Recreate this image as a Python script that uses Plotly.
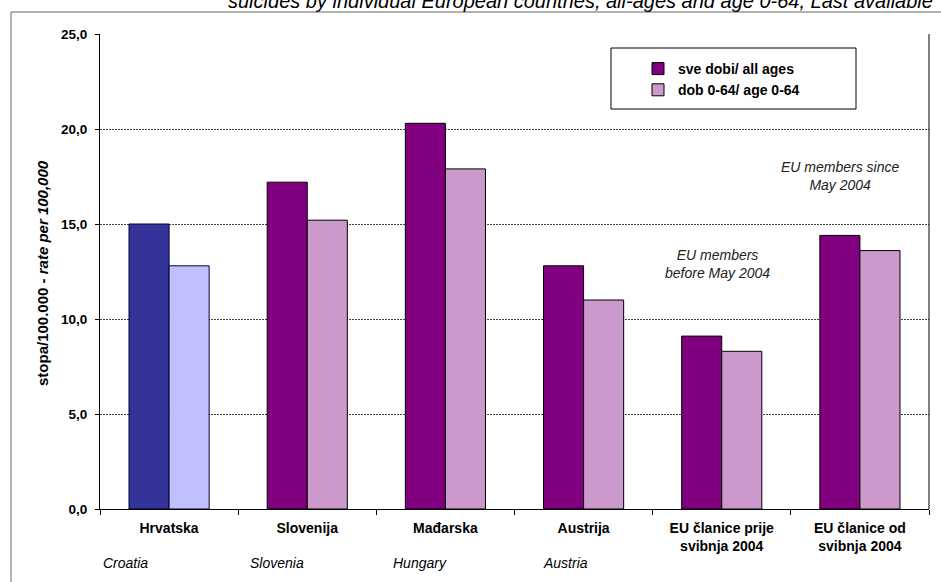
import plotly.graph_objects as go

categories = ["Hrvatska", "Slovenija", "Mađarska", "Austrija",
              "EU članice prije<br>svibnja 2004", "EU članice od<br>svibnja 2004"]
english_labels = ["Croatia", "Slovenia", "Hungary", "Austria"]
all_ages = [15.0, 17.2, 20.3, 12.8, 9.1, 14.4]
age_0_64 = [12.8, 15.2, 17.9, 11.0, 8.3, 13.6]
y_ticks = [0, 5, 10, 15, 20, 25]
y_tick_text = ["0,0", "5,0", "10,0", "15,0", "20,0", "25,0"]

FONT = "Arial, Liberation Sans, sans-serif"
W, H = 941, 582
ML, MR, MT, MB = 100, 12, 34, 73
PW = W - ML - MR
PH = H - MT - MB

def px_x(p):
    return (p - ML) / PW

def px_y(p):
    return 1 - (p - MT) / PH

fig = go.Figure()

# Croatia (highlighted colours)
fig.add_trace(go.Bar(x=categories[:1], y=all_ages[:1], offsetgroup="a",
                     marker=dict(color="#333399", line=dict(color="#000033", width=1)),
                     showlegend=False, hoverinfo="y"))
fig.add_trace(go.Bar(x=categories[:1], y=age_0_64[:1], offsetgroup="b",
                     marker=dict(color="#C0C0FF", line=dict(color="#000033", width=1)),
                     showlegend=False, hoverinfo="y"))
# Others
fig.add_trace(go.Bar(x=categories[1:], y=all_ages[1:], offsetgroup="a",
                     name="<b>sve dobi/ all ages</b>",
                     marker=dict(color="#800080", line=dict(color="#000000", width=1))))
fig.add_trace(go.Bar(x=categories[1:], y=age_0_64[1:], offsetgroup="b",
                     name="<b>dob 0-64/ age 0-64</b>",
                     marker=dict(color="#CC99CC", line=dict(color="#000000", width=1))))

shapes = [
    # outer chart border (cut on right and bottom)
    dict(type="rect", xref="paper", yref="paper",
         x0=px_x(11), x1=px_x(W + 20), y0=px_y(H + 20), y1=px_y(12),
         line=dict(color="#666666", width=1), fillcolor="rgba(0,0,0,0)", layer="below"),
    # right border of plot area
    dict(type="line", xref="paper", yref="paper", x0=1, x1=1, y0=0, y1=1,
         line=dict(color="#000000", width=1)),
    # legend box
    dict(type="rect", xref="paper", yref="paper",
         x0=px_x(611), x1=px_x(856), y0=px_y(109), y1=px_y(48),
         line=dict(color="#000000", width=1), fillcolor="#FFFFFF", layer="above"),
]

annotations = [
    dict(text="<i>suicides by individual European countries, all-ages and age 0-64, Last available</i>",
         xref="paper", yref="paper", x=px_x(580), y=px_y(1), xanchor="center", yanchor="middle",
         showarrow=False, font=dict(family=FONT, size=20, color="#000000")),
    dict(text="<b>stopa/100.000 - <i>rate per 100,000</i></b>", textangle=-90,
         xref="paper", yref="paper", x=px_x(42), y=px_y(273), xanchor="center", yanchor="middle",
         showarrow=False, font=dict(family=FONT, size=15, color="#000000")),
    dict(text="<i>EU members since<br>May 2004</i>", xref="paper", yref="paper",
         x=px_x(840), y=px_y(176), showarrow=False, align="center",
         xanchor="center", yanchor="middle",
         font=dict(family=FONT, size=14, color="#222222")),
    dict(text="<i>EU members<br>before May 2004</i>", xref="paper", yref="paper",
         x=px_x(717), y=px_y(264), showarrow=False, align="center",
         xanchor="center", yanchor="middle",
         font=dict(family=FONT, size=14, color="#222222")),
]
eng_x = [125, 277, 420, 565]
for lab, xp in zip(english_labels, eng_x):
    annotations.append(dict(text="<i>" + lab + "</i>", xref="paper", yref="paper",
                            x=px_x(xp), y=px_y(563), xanchor="center", yanchor="middle",
                            showarrow=False, font=dict(family=FONT, size=14, color="#000000")))

fig.update_layout(
    width=W, height=H,
    margin=dict(l=ML, r=MR, t=MT, b=MB, autoexpand=False),
    paper_bgcolor="#FFFFFF", plot_bgcolor="#FFFFFF",
    barmode="group", bargap=0.42, bargroupgap=0,
    font=dict(family=FONT, size=14, color="#000000"),
    showlegend=True,
    legend=dict(x=px_x(638), y=px_y(53), xanchor="left", yanchor="top",
                bgcolor="rgba(0,0,0,0)", borderwidth=0,
                font=dict(family=FONT, size=14, color="#000000"),
                itemwidth=30, tracegroupgap=0),
    shapes=shapes,
    annotations=annotations,
)
fig.update_xaxes(
    tickvals=categories, ticktext=["<b>" + c + "</b>" for c in categories],
    tickson="boundaries", ticks="outside", ticklen=5, tickcolor="#000000",
    ticklabelstandoff=6,
    showline=True, linecolor="#000000", linewidth=1,
    showgrid=False, tickfont=dict(family=FONT, size=14, color="#000000"),
)
fig.update_yaxes(
    range=[0, 25], tickvals=y_ticks, ticktext=["<b>" + t + "</b>" for t in y_tick_text],
    ticks="outside", ticklen=4, tickcolor="#000000",
    ticklabelstandoff=5,
    showline=True, linecolor="#000000", linewidth=1,
    showgrid=True, gridcolor="#444444", gridwidth=1, griddash="2px,1px",
    zeroline=False, tickfont=dict(family=FONT, size=13.5, color="#000000"),
)

fig.write_html("out.html", config={"displayModeBar": False},
               post_script="document.body.style.margin='0';")
